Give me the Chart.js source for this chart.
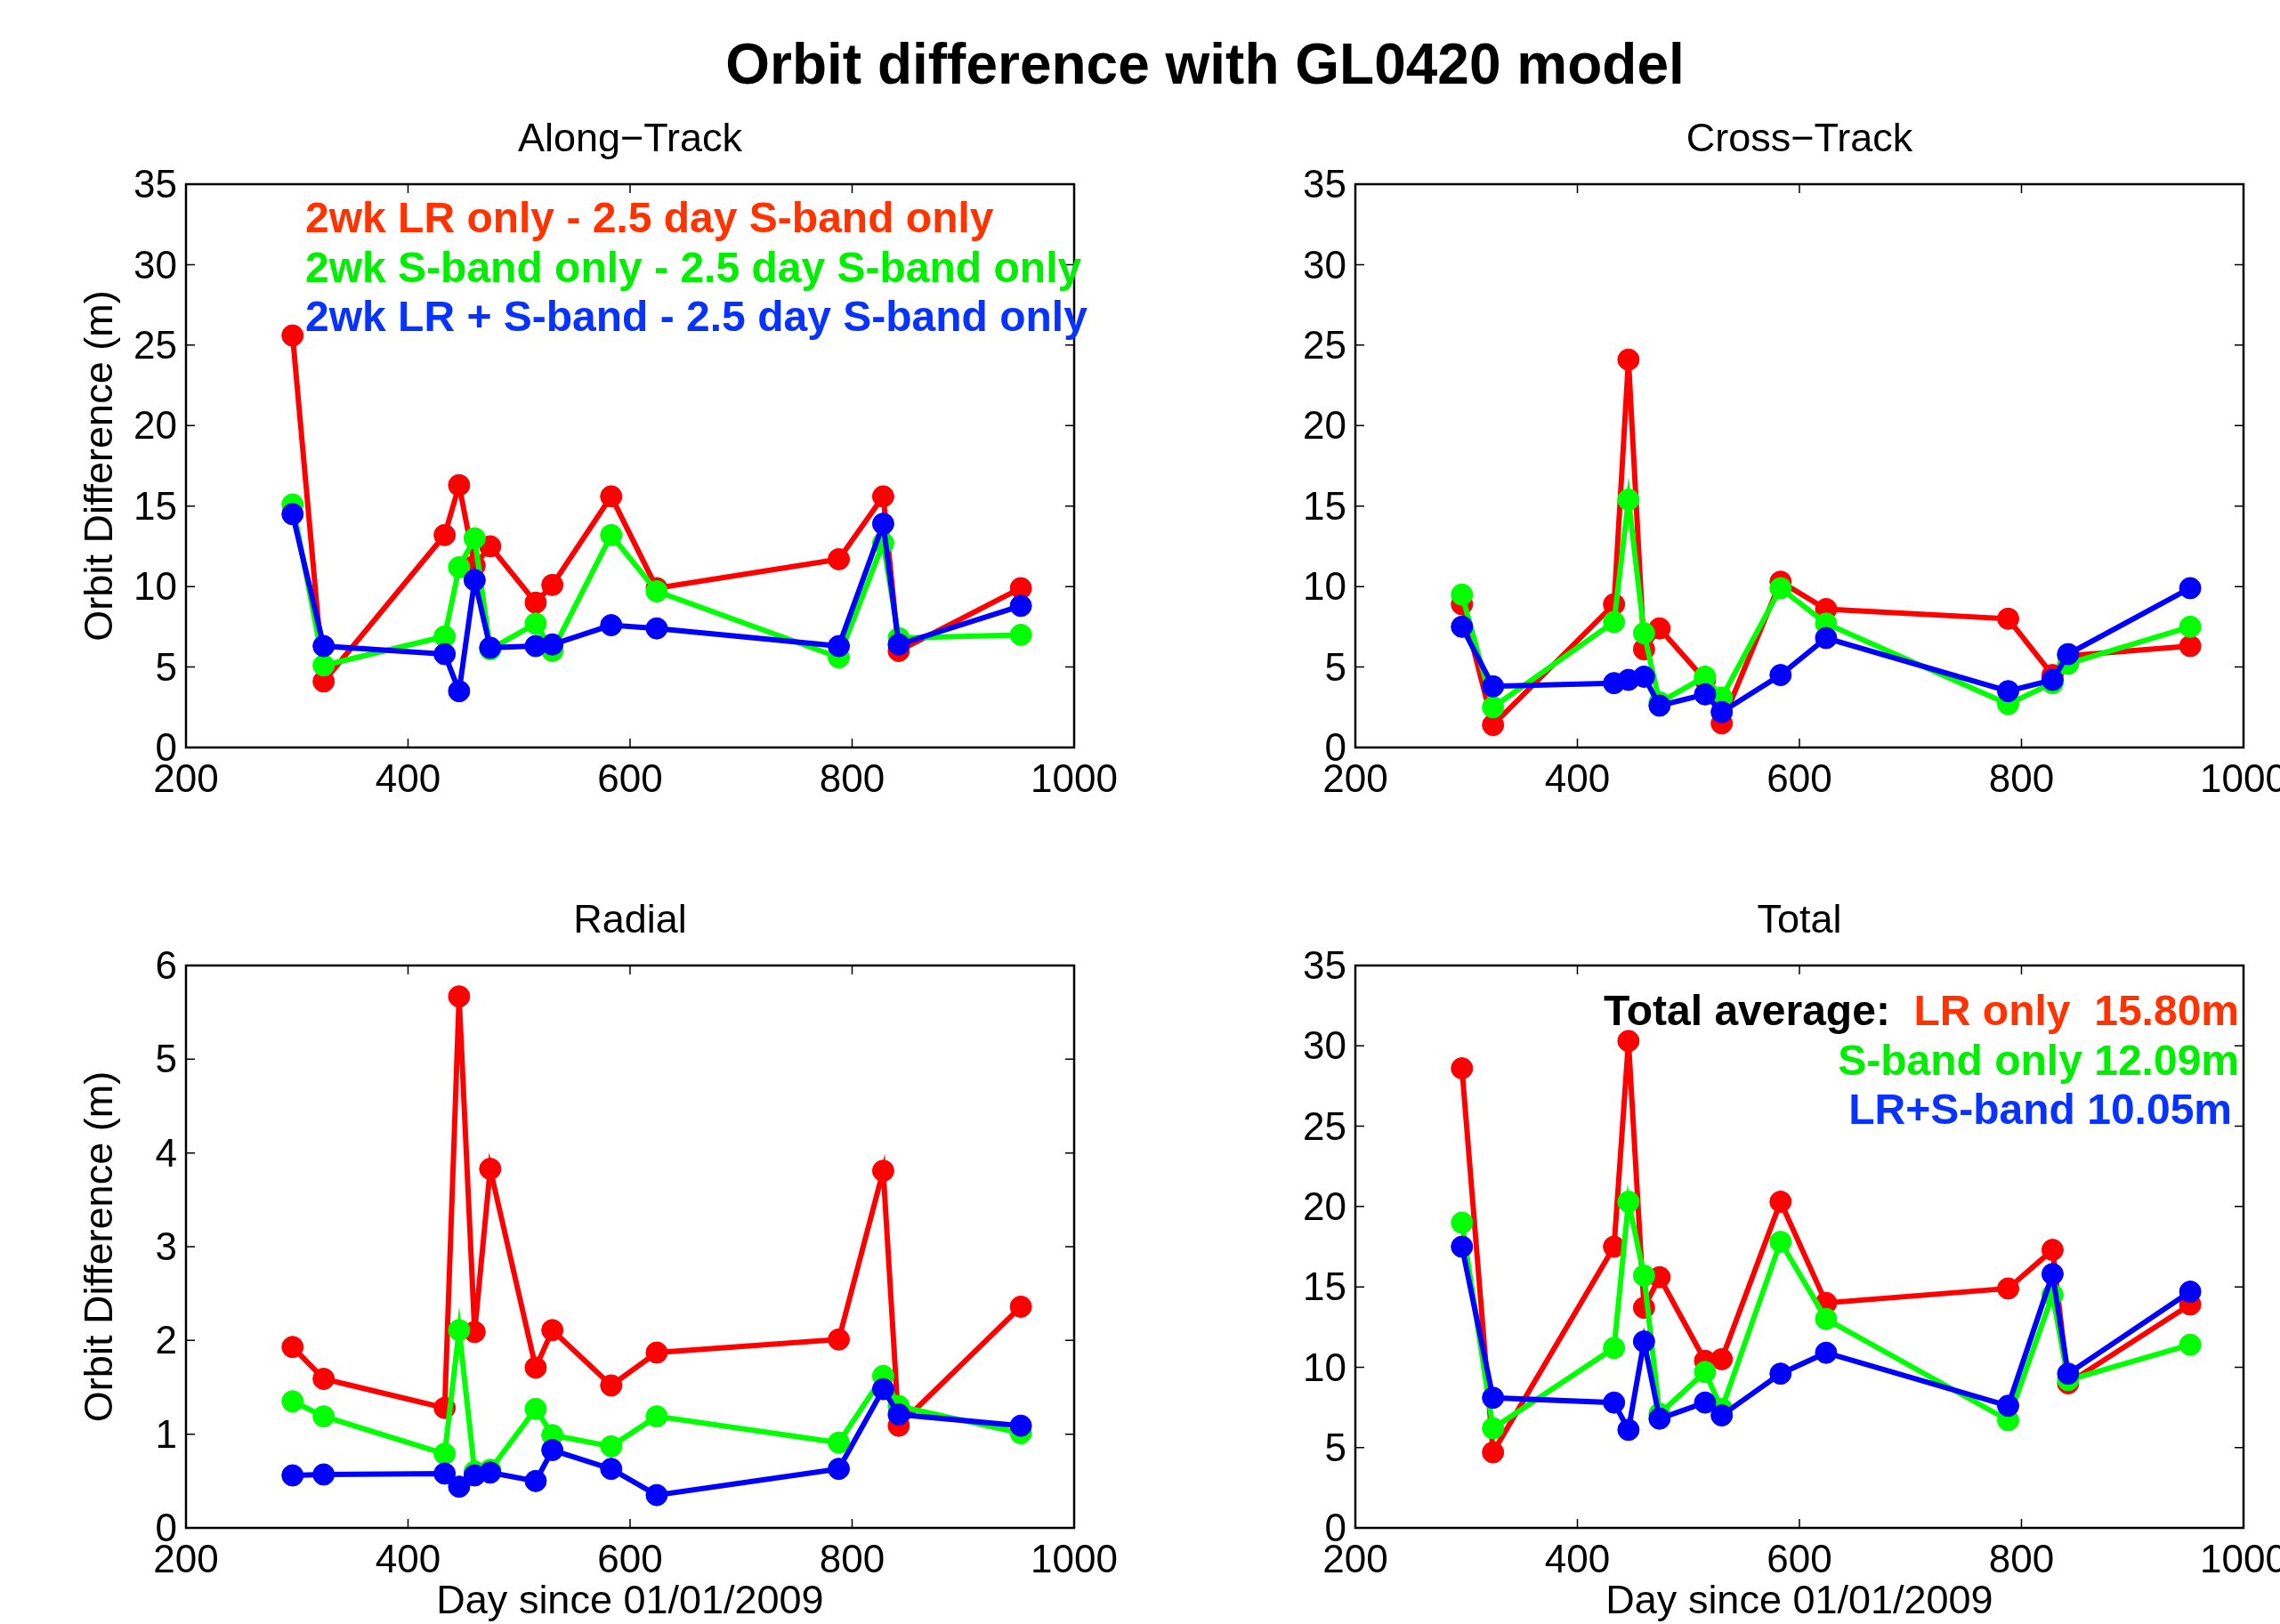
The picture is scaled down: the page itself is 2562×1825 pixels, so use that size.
<!DOCTYPE html>
<html>
<head>
<meta charset="utf-8">
<title>Orbit difference with GL0420 model</title>
<script src="https://cdn.jsdelivr.net/npm/chart.js@4.4.0/dist/chart.umd.min.js"></script>
<style>
  html,body{margin:0;padding:0;background:#fff;}
  body{width:2562px;height:1825px;position:relative;overflow:hidden;font-family:'Liberation Sans',Arial,sans-serif;}
  h1{position:absolute;left:1354px;top:72px;transform:translate(-50%,-50%);margin:0;font-size:64px;font-weight:bold;white-space:nowrap;line-height:1;}
  canvas{position:absolute;}
</style>
</head>
<body>
<h1>Orbit difference with GL0420 model</h1>
<canvas id="c-along" width="1300" height="820" style="left:0;top:100px"></canvas>
<canvas id="c-cross" width="1248" height="820" style="left:1314px;top:100px"></canvas>
<canvas id="c-radial" width="1300" height="860" style="left:0;top:980px"></canvas>
<canvas id="c-total" width="1248" height="860" style="left:1314px;top:980px"></canvas>
<script>
'use strict';

// ── data ──
const days = [296, 324, 433, 446, 460, 474, 515, 530, 583, 624, 788, 828, 842, 952];

const alongLR = [25.6, 4.1, 13.2, 16.3, 11.3, 12.5, 9.0, 10.1, 15.6, 9.9, 11.7, 15.6, 6.0, 9.9];
const alongSB = [15.1, 5.1, 6.9, 11.2, 13.0, 6.1, 7.7, 6.0, 13.2, 9.7, 5.6, 12.7, 6.8, 7.0];
const alongLS = [14.5, 6.3, 5.8, 3.5, 10.4, 6.2, 6.3, 6.4, 7.6, 7.4, 6.3, 13.9, 6.4, 8.8];

const crossLR = [8.9, 1.4, 8.9, 24.1, 6.1, 7.4, 4.2, 1.5, 10.3, 8.6, 8.0, 4.5, 5.7, 6.3];
const crossSB = [9.5, 2.5, 7.8, 15.4, 7.1, 2.8, 4.4, 3.1, 9.9, 7.7, 2.7, 4.0, 5.2, 7.5];
const crossLS = [7.5, 3.8, 4.0, 4.2, 4.4, 2.6, 3.3, 2.2, 4.5, 6.8, 3.5, 4.2, 5.8, 9.9];

const radLR = [1.93, 1.59, 1.28, 5.67, 2.09, 3.83, 1.71, 2.11, 1.52, 1.87, 2.01, 3.81, 1.09, 2.36];
const radSB = [1.35, 1.19, 0.79, 2.11, 0.60, 0.62, 1.27, 0.99, 0.87, 1.19, 0.91, 1.62, 1.30, 1.01];
const radLS = [0.56, 0.57, 0.58, 0.44, 0.56, 0.59, 0.50, 0.83, 0.63, 0.35, 0.63, 1.48, 1.21, 1.09];

const totLR = [28.6, 4.7, 17.5, 30.3, 13.7, 15.6, 10.4, 10.5, 20.3, 14.0, 14.9, 17.3, 9.0, 13.9];
const totSB = [19.0, 6.2, 11.2, 20.3, 15.7, 7.1, 9.7, 7.4, 17.8, 13.0, 6.7, 14.5, 9.2, 11.4];
const totLS = [17.5, 8.1, 7.8, 6.1, 11.6, 6.8, 7.8, 7.0, 9.6, 10.9, 7.6, 15.8, 9.6, 14.7];

const xTicks = [200, 400, 600, 800, 1000];
const legendLabels = [
  '2wk LR only - 2.5 day S-band only',
  '2wk S-band only - 2.5 day S-band only',
  '2wk LR + S-band - 2.5 day S-band only'
];
const totalHead = 'Total average:  ';
const totalLabels = ['LR only  15.80m', 'S-band only 12.09m', 'LR+S-band 10.05m'];

const FONT = "'Liberation Sans', Arial, Helvetica, sans-serif";
const RED = '#ff0000', GREEN = '#00ff00', BLUE = '#0000ff';
const TXT = ['#ff3300', '#00ee00', '#0833ff'];

function series(ys) { return days.map((d,i)=>({x:d, y:ys[i]})); }

// matlab-ish box with inward ticks, subplot title and text notes
const matlabAxes = {
  id: 'matlabAxes',
  beforeDatasetsDraw(chart) {
    const {ctx, chartArea:a, scales:{x, y}} = chart;
    ctx.save();
    ctx.strokeStyle = '#000';
    ctx.lineWidth = 1.5;
    ctx.beginPath();
    x.ticks.forEach(t=>{
      const px = x.getPixelForValue(t.value);
      ctx.moveTo(px, a.bottom); ctx.lineTo(px, a.bottom-10);
      ctx.moveTo(px, a.top); ctx.lineTo(px, a.top+10);
    });
    y.ticks.forEach(t=>{
      const py = y.getPixelForValue(t.value);
      ctx.moveTo(a.left, py); ctx.lineTo(a.left+10, py);
      ctx.moveTo(a.right, py); ctx.lineTo(a.right-10, py);
    });
    ctx.stroke();
    ctx.lineWidth = 2.5;
    ctx.strokeRect(a.left, a.top, a.right-a.left, a.bottom-a.top);
    ctx.restore();
  },
  afterDraw(chart, args, opts) {
    const {ctx, chartArea:a} = chart;
    ctx.save();
    ctx.fillStyle = '#000';
    ctx.font = `45px ${FONT}`;
    ctx.textAlign = 'center';
    ctx.textBaseline = 'middle';
    ctx.fillText(opts.title, (a.left+a.right)/2, a.top-49);
    ctx.font = `bold 48px ${FONT}`;
    if (opts.notes==='legend') {
      ctx.textAlign = 'left';
      legendLabels.forEach((s,i)=>{ ctx.fillStyle = TXT[i]; ctx.fillText(s, a.left+134, a.top+41+i*55.5); });
    } else if (opts.notes==='total') {
      ctx.textAlign = 'right';
      const rx = [a.right-5, a.right-5, a.right-13];
      totalLabels.forEach((s,i)=>{ ctx.fillStyle = TXT[i]; ctx.fillText(s, rx[i], a.top+54+i*55.5); });
      ctx.fillStyle = '#000';
      ctx.fillText(totalHead, rx[0]-ctx.measureText(totalLabels[0]).width, a.top+54);
    }
    ctx.restore();
  }
};

function makePanel(id, o) {
  const tickFont = {family:FONT, size:44};
  const ds = (label, ys, col, order) => ({
    label, data:series(ys), borderColor:col, backgroundColor:col,
    borderWidth:6, pointRadius:12, pointBorderWidth:1, pointBorderColor:col, pointBackgroundColor:col,
    tension:0, clip:false, order
  });
  return new Chart(document.getElementById(id), {
    type: 'line',
    data: {datasets: [
      ds('2wk LR only', o.lr, RED, 2),
      ds('2wk S-band only', o.sb, GREEN, 1),
      ds('2wk LR + S-band', o.ls, BLUE, 0)
    ]},
    options: {
      responsive:false, animation:false, events:[],
      layout:{padding:{left:0, top:o.padTop, right:o.padRight, bottom:0}},
      plugins:{legend:{display:false}, tooltip:{enabled:false},
        matlabAxes:{title:o.title, notes:o.notes}},
      scales:{
        x:{type:'linear', min:200, max:1000,
          afterBuildTicks:s=>{ s.ticks = xTicks.map(v=>({value:v})); },
          grid:{display:false, drawTicks:false}, border:{display:false},
          ticks:{font:tickFont, color:'#000', padding:11, maxRotation:0, autoSkip:false, callback:v=>String(v)},
          title:{display:!!o.xLabel, text:o.xLabel||'', color:'#000', font:{family:FONT, size:45}, padding:{top:0, bottom:12}},
          afterFit:s=>{ s.height = o.xHeight; s.paddingLeft = 0; s.paddingRight = 0; }},
        y:{type:'linear', min:0, max:o.yMax,
          grid:{display:false, drawTicks:false}, border:{display:false},
          ticks:{stepSize:o.yStep, font:tickFont, color:'#000', padding:10, labelOffset:3, callback:v=>String(v)},
          title:{display:!!o.yLabel, text:o.yLabel||'', color:'#000', font:{family:FONT, size:45}, padding:{top:87, bottom:0}},
          afterFit:s=>{ s.width = 209; s.paddingTop = 0; s.paddingBottom = 0; }}
      }
    },
    plugins:[matlabAxes]
  });
}

makePanel('c-along', {title:'Along\u2212Track', lr:alongLR, sb:alongSB, ls:alongLS, yMax:35, yStep:5,
  yLabel:'Orbit Difference (m)', padTop:107, padRight:93, xHeight:80, notes:'legend'});
makePanel('c-cross', {title:'Cross\u2212Track', lr:crossLR, sb:crossSB, ls:crossLS, yMax:35, yStep:5,
  padTop:107, padRight:41, xHeight:80});
makePanel('c-radial', {title:'Radial', lr:radLR, sb:radSB, ls:radLS, yMax:6, yStep:1,
  yLabel:'Orbit Difference (m)', xLabel:'Day since 01/01/2009', padTop:105, padRight:93, xHeight:123});
makePanel('c-total', {title:'Total', lr:totLR, sb:totSB, ls:totLS, yMax:35, yStep:5,
  xLabel:'Day since 01/01/2009', padTop:105, padRight:41, xHeight:123, notes:'total'});
</script>
</body>
</html>
